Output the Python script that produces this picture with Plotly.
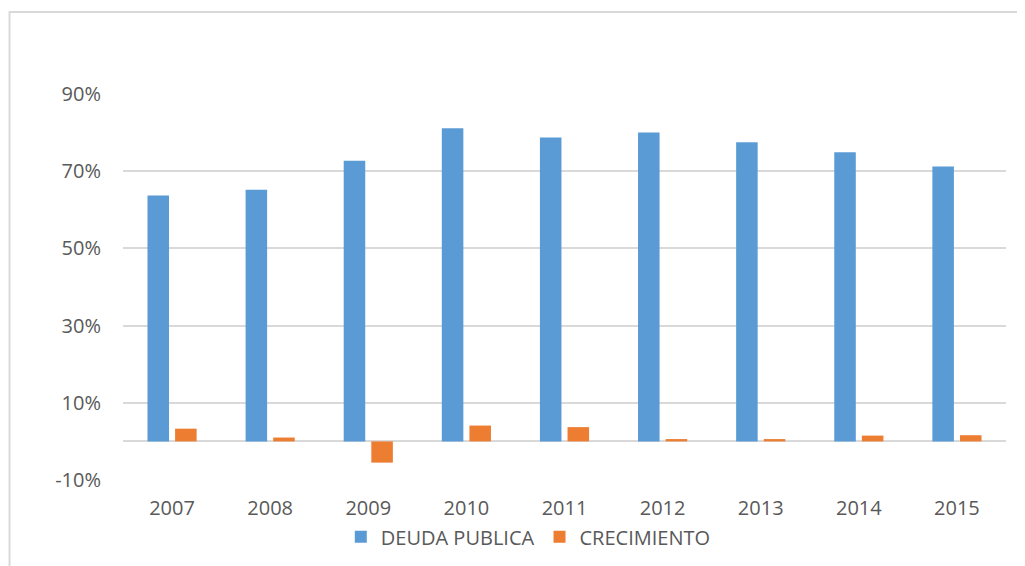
import plotly.graph_objects as go

# data
years = ['2007', '2008', '2009', '2010', '2011', '2012', '2013', '2014', '2015']
deuda_publica = [0.637, 0.652, 0.727, 0.811, 0.787, 0.800, 0.775, 0.749, 0.712]
crecimiento = [0.033, 0.010, -0.055, 0.041, 0.037, 0.006, 0.006, 0.015, 0.016]

tick_vals = [-0.1, 0.1, 0.3, 0.5, 0.7, 0.9]
tick_text = [f'{round(v * 100)}%' for v in tick_vals]  # plain hyphen, like the original

blue = '#5B9BD5'
orange = '#ED7D31'
grid = '#D9D9D9'
text_color = '#595959'
font_family = 'Open Sans, Lato, sans-serif'

fig = go.Figure()

fig.add_trace(go.Bar(x=years, y=deuda_publica, name='DEUDA PUBLICA',
                     marker=dict(color=blue, line=dict(width=0))))
fig.add_trace(go.Bar(x=years, y=crecimiento, name='CRECIMIENTO',
                     marker=dict(color=orange, line=dict(width=0))))

# page body has an 8px margin, so the margins are shifted up/left by 8px
fig.update_layout(
    width=1025, height=566,
    margin=dict(l=115, r=27, t=86, b=94),
    paper_bgcolor='white', plot_bgcolor='white',
    barmode='group', bargap=0.437, bargroupgap=0.22,
    font=dict(family=font_family, size=20, color=text_color),
    showlegend=True,
    legend=dict(orientation='h', x=0.459, xanchor='center', y=-0.147, yanchor='middle',
                font=dict(size=20, color=text_color), itemwidth=30,
                bgcolor='rgba(0,0,0,0)'),
)

fig.update_xaxes(type='category', showgrid=False, showline=False, ticks='',
                 tickfont=dict(size=20, color=text_color), ticklabelstandoff=14)
fig.update_yaxes(range=[-0.1, 0.9], tickvals=tick_vals, ticktext=tick_text,
                 showgrid=True, gridcolor=grid, gridwidth=2,
                 zeroline=True, zerolinecolor=grid, zerolinewidth=2,
                 showline=False, ticks='', ticklabelstandoff=21,
                 tickfont=dict(size=20, color=text_color))

# outer chart frame (cropped on the right and bottom in the reference)
fig.add_shape(type='rect', xref='paper', yref='paper',
              x0=-0.1285, x1=1.2, y0=-0.4, y1=1.2124,
              line=dict(color=grid, width=2), layer='below')

fig.write_html("out.html")
